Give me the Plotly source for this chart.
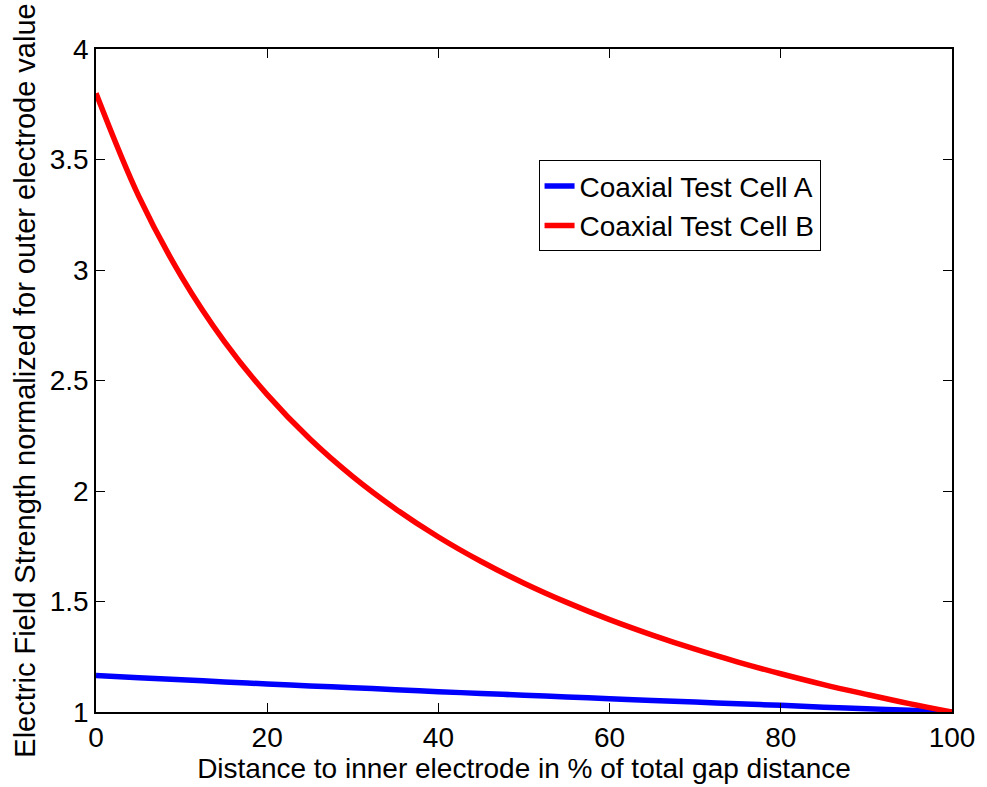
import plotly.graph_objects as go

# Distance to inner electrode (% of gap)
distance = [0, 5, 10, 15, 20, 25, 30, 35, 40, 45, 50, 55, 60, 65, 70, 75, 80, 85, 90, 95, 100]
# Normalized field strength
cell_a = [1.165, 1.155, 1.146, 1.136, 1.127, 1.118, 1.110, 1.101, 1.092, 1.084, 1.076,
          1.068, 1.060, 1.052, 1.045, 1.037, 1.030, 1.022, 1.015, 1.008, 1.000]
cell_b = [3.800, 3.333, 2.969, 2.676, 2.436, 2.235, 2.065, 1.919, 1.792, 1.681, 1.583,
          1.496, 1.418, 1.348, 1.284, 1.226, 1.173, 1.124, 1.080, 1.038, 1.000]

x_ticks = [0, 20, 40, 60, 80, 100]
y_ticks = [1, 1.5, 2, 2.5, 3, 3.5, 4]
y_tick_text = ["1", "1.5", "2", "2.5", "3", "3.5", "4"]

font_family = "Liberation Sans, Arial, sans-serif"

fig = go.Figure()
fig.add_trace(go.Scatter(x=distance, y=cell_a, mode="lines", name="Coaxial Test Cell A",
                         line=dict(color="#0000ff", width=5.5, shape="spline")))
fig.add_trace(go.Scatter(x=distance, y=cell_b, mode="lines", name="Coaxial Test Cell B",
                         line=dict(color="#ff0000", width=5.5, shape="spline")))

axis_common = dict(showline=True, linecolor="black", linewidth=1.5, mirror="allticks",
                   ticks="inside", ticklen=9, tickwidth=1, tickcolor="black",
                   showgrid=False, zeroline=False,
                   tickfont=dict(family=font_family, size=28, color="black"))

fig.update_layout(
    width=987, height=787,
    margin=dict(l=96, r=29, t=49, b=71),
    paper_bgcolor="white", plot_bgcolor="white",
    font=dict(family=font_family, size=28, color="black"),
    xaxis=dict(range=[0, 100], tickvals=x_ticks,
               title=dict(text="Distance to inner electrode in % of total gap distance",
                          font=dict(size=28), standoff=2),
               **axis_common),
    yaxis=dict(range=[1, 4], tickvals=y_ticks, ticktext=y_tick_text,
               title=dict(text="Electric Field Strength normalized for outer electrode value",
                          font=dict(size=29), standoff=6),
               **axis_common),
    legend=dict(x=0.517, y=0.832, xanchor="left", yanchor="top",
                bordercolor="black", borderwidth=1, bgcolor="white",
                font=dict(size=28), tracegroupgap=0),
    showlegend=True,
)

fig.write_html("out.html")
